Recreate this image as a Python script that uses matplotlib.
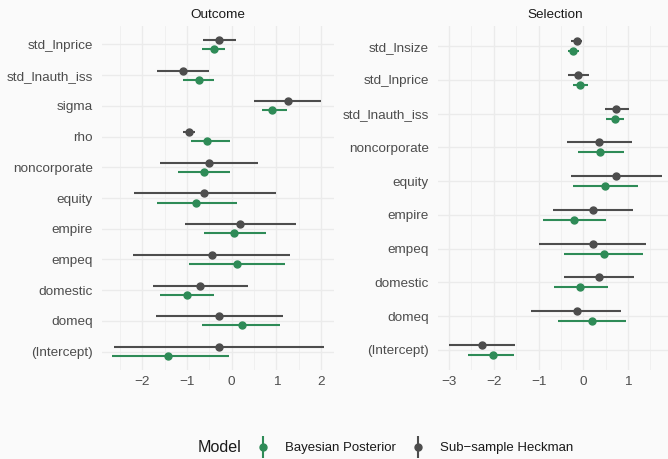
import numpy as np
import matplotlib
matplotlib.use("Agg")
import matplotlib.pyplot as plt
from matplotlib.lines import Line2D
from matplotlib.ticker import MultipleLocator

plt.rcParams['font.family'] = ['Liberation Sans', 'DejaVu Sans']

green = '#2E8B57'
grey = '#4D4D4D'
bg = '#FAFAFA'

# Outcome panel, top to bottom
out_vars = ['std_lnprice', 'std_lnauth_iss', 'sigma', 'rho', 'noncorporate', 'equity',
            'empire', 'empeq', 'domestic', 'domeq', '(Intercept)']
out_heck = [-0.28, -1.09, 1.26, -0.96, -0.50, -0.61, 0.19, -0.45, -0.71, -0.28, -0.28]
out_heck_lo = [-0.65, -1.67, 0.50, -1.08, -1.60, -2.19, -1.05, -2.20, -1.77, -1.69, -2.63]
out_heck_hi = [0.10, -0.50, 2.00, -0.83, 0.58, 0.98, 1.43, 1.31, 0.36, 1.14, 2.06]
out_bayes = [-0.40, -0.73, 0.90, -0.55, -0.61, -0.79, 0.06, 0.12, -1.01, 0.22, -1.43]
out_bayes_lo = [-0.67, -1.09, 0.68, -0.91, -1.21, -1.67, -0.62, -0.96, -1.60, -0.67, -2.67]
out_bayes_hi = [-0.14, -0.40, 1.23, -0.03, -0.03, 0.11, 0.76, 1.20, -0.40, 1.09, -0.06]

# Selection panel, top to bottom
sel_vars = ['std_lnsize', 'std_lnprice', 'std_lnauth_iss', 'noncorporate', 'equity',
            'empire', 'empeq', 'domestic', 'domeq', '(Intercept)']
sel_heck = [-0.15, -0.11, 0.74, 0.36, 0.74, 0.22, 0.21, 0.35, -0.15, -2.27]
sel_heck_lo = [-0.27, -0.34, 0.48, -0.36, -0.27, -0.68, -1.00, -0.43, -1.16, -3.01]
sel_heck_hi = [-0.02, 0.12, 1.01, 1.08, 1.76, 1.12, 1.41, 1.13, 0.85, -1.53]
sel_bayes = [-0.23, -0.07, 0.70, 0.38, 0.48, -0.21, 0.45, -0.07, 0.19, -2.02]
sel_bayes_lo = [-0.34, -0.23, 0.50, -0.13, -0.23, -0.90, -0.43, -0.65, -0.57, -2.57]
sel_bayes_hi = [-0.09, 0.10, 0.90, 0.90, 1.21, 0.50, 1.33, 0.54, 0.96, -1.56]

models = ['Bayesian Posterior', 'Sub\u2212sample Heckman']
dodge = 0.15


def pointrange(ax, pos, est, lo, hi, color):
    ax.hlines(pos, lo, hi, color=color, lw=1.5, zorder=3)
    ax.plot(est, pos, 'o', color=color, ms=5, zorder=4)


def panel(ax, title, names, heck, heck_lo, heck_hi, bayes, bayes_lo, bayes_hi):
    pos = np.arange(len(names))
    pointrange(ax, pos - dodge, heck, heck_lo, heck_hi, grey)
    pointrange(ax, pos + dodge, bayes, bayes_lo, bayes_hi, green)
    lo = min(min(heck_lo), min(bayes_lo))
    hi = max(max(heck_hi), max(bayes_hi))
    pad = 0.05 * (hi - lo)
    ax.set_xlim(lo - pad, hi + pad)
    ax.set_ylim(len(names) - 0.4, -0.6)
    ax.set_yticks(pos)
    ax.set_yticklabels(names)
    ax.xaxis.set_major_locator(MultipleLocator(1))
    ax.xaxis.set_minor_locator(MultipleLocator(0.5))
    ax.set_facecolor(bg)
    ax.grid(True, which='major', color='#EBEBEB', lw=1.0)
    ax.grid(True, which='minor', axis='x', color='#EFEFEF', lw=0.6)
    ax.set_axisbelow(True)
    for s in ax.spines.values():
        s.set_visible(False)
    ax.tick_params(axis='both', which='both', length=0, colors=grey, labelsize=9.7)
    ax.tick_params(axis='y', pad=6.5)
    ax.tick_params(axis='x', pad=4)
    ax.set_title(title, fontsize=9.7, color='#1A1A1A', pad=6)


fig = plt.figure(figsize=(6.68, 4.59), dpi=100, facecolor=bg)
ax0 = fig.add_axes([101.7 / 668, 1 - 370 / 459, 0.3484, 344 / 459])
ax1 = fig.add_axes([438 / 668, 1 - 370 / 459, 0.3515, 344 / 459])

panel(ax0, 'Outcome', out_vars, out_heck, out_heck_lo, out_heck_hi,
      out_bayes, out_bayes_lo, out_bayes_hi)
panel(ax1, 'Selection', sel_vars, sel_heck, sel_heck_lo, sel_heck_hi,
      sel_bayes, sel_bayes_lo, sel_bayes_hi)

# legend along the bottom
handles = []
for c in [green, grey]:
    handles.append((Line2D([], [], marker='|', ms=16, mew=1.5, color=c, ls=''),
                    Line2D([], [], marker='o', ms=5, color=c, ls='')))
fig.text(197.7 / 668, 1 - 448 / 459, 'Model', fontsize=11.6, color='#1A1A1A',
         ha='left', va='center')
fig.legend(handles, models, ncol=2, frameon=False, loc='center left',
           bbox_to_anchor=(256.7 / 668, 1 - 448 / 459), borderpad=0, borderaxespad=0,
           handlelength=1.0, handletextpad=1.14, columnspacing=1.19,
           prop={'size': 9.5}, labelcolor='#1A1A1A')

fig.savefig('out.png', dpi=100, facecolor=bg)
